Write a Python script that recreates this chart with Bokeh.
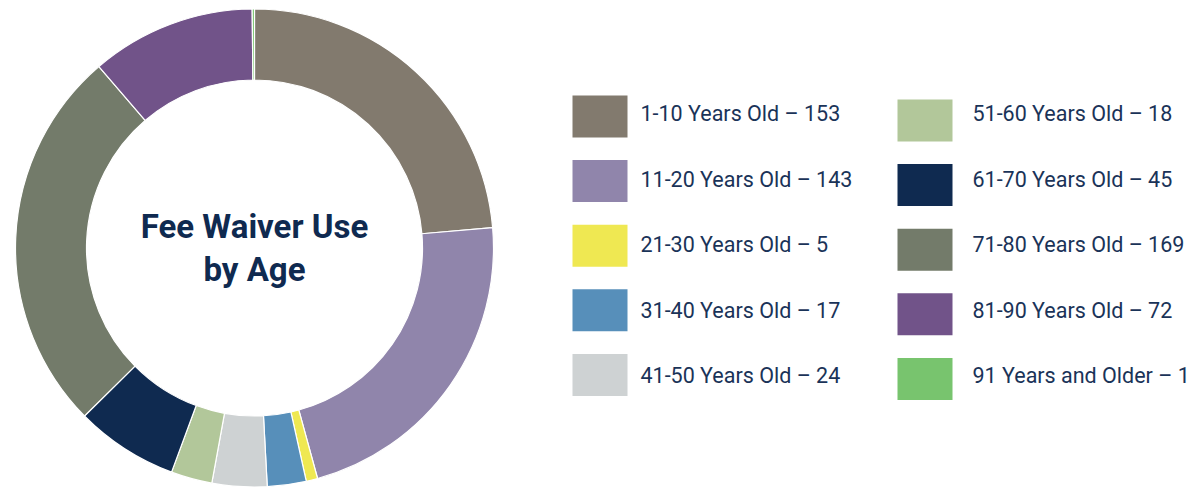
import numpy as np
from bokeh.plotting import figure
from bokeh.models import ColumnDataSource, Range1d
from bokeh.core.properties import value
from bokeh.embed import file_html
from bokeh.resources import INLINE

# ---- data ----
categories = ["1-10 Years Old", "11-20 Years Old", "21-30 Years Old", "31-40 Years Old",
              "41-50 Years Old", "51-60 Years Old", "61-70 Years Old", "71-80 Years Old",
              "81-90 Years Old", "91 Years and Older"]
counts = [153, 143, 5, 17, 24, 18, 45, 169, 72, 1]
colors = ["#827a6e", "#9085ab", "#efe852", "#578fba", "#ced2d3",
          "#b2c79a", "#0f2a50", "#737b6a", "#715389", "#78c46e"]
title_lines = ["Fee Waiver Use", "by Age"]

W, H = 1190, 488
p = figure(width=W, height=H, output_backend="svg", toolbar_location=None,
           x_range=Range1d(0, W), y_range=Range1d(0, H), min_border=0)
p.axis.visible = False
p.grid.visible = False
p.outline_line_color = None
p.background_fill_color = "white"
p.border_fill_color = "white"

# ---- donut ----
vals = np.array(counts, dtype=float)
frac = vals / vals.sum()
cum = np.concatenate([[0], np.cumsum(frac)])
start = np.pi / 2 - 2 * np.pi * cum[:-1]
end = np.pi / 2 - 2 * np.pi * cum[1:]
cx, cy = 254, 240.5
src = ColumnDataSource(dict(start=start, end=end, color=colors, cat=categories, n=counts))
p.annular_wedge(x=cx, y=cy, inner_radius=168, outer_radius=239,
                start_angle="start", end_angle="end", direction="clock",
                fill_color="color", line_color="white", line_width=1.2, source=src)

p.text(x=[cx, cx], y=[cy + 22, cy - 21], text=title_lines,
       text_font=value("Roboto"), text_font_style="bold", text_font_size="33px",
       text_color="#0f2a50", text_align="center", text_baseline="middle")

# ---- legend ----
idx = np.arange(len(categories))
col = idx // 5
row = idx % 5
rx = np.where(col == 0, 599.5, 924.5)
ry = np.where(col == 0, 372.0, 368.0) - row * 64.6
tx = np.where(col == 0, 640.0, 972.0)
ty = 375.0 - row * 65.5
labels = [f"{c} \u2013 {n}" for c, n in zip(categories, counts)]
p.rect(x=rx, y=ry, width=55, height=42, fill_color=colors, line_color=None)
p.text(x=tx, y=ty, text=labels, text_font=value("Roboto"), text_font_size="21.5px",
       text_color="#1a3358", text_align="left", text_baseline="middle")

open("out.html", "w").write(file_html(p, INLINE))
